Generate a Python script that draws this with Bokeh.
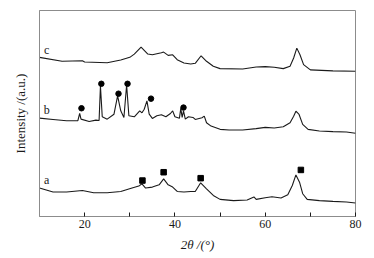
from bokeh.plotting import figure
from bokeh.models import Range1d, FixedTicker
from bokeh.core.properties import value
from bokeh.embed import file_html
from bokeh.resources import INLINE

# ---- data (2theta in degrees, intensity in arbitrary units) ----
x_a = [10, 13, 16, 19.5, 22, 25, 28, 30.5, 32, 32.7, 33.5, 35, 36.5, 37.5, 38.5, 39.5, 40.5, 42, 43.5, 44.5,
       45.7, 47, 48.5, 50, 53, 56, 57.5, 58, 60, 61.5, 63.5, 65, 66, 66.8, 67.6, 68.3, 69.3, 72, 75, 78, 80]
y_a = [28.7, 24.7, 24.7, 26.3, 24, 24, 25.3, 28.7, 30.7, 33, 28.7, 29.7, 32, 38, 32, 29.7, 25.3, 24.7, 25.3, 25.3,
       34, 28, 21.3, 17.3, 16, 16.7, 19.7, 17.3, 19, 20, 18.7, 22, 31.3, 42, 34.7, 23, 17.3, 16, 15.3, 14.7, 13.7]

x_b = [10, 13, 16, 18.5, 18.9, 19.2, 21, 22.5, 23.2, 23.5, 23.9, 25, 26.5, 27.3, 28, 28.7, 29.3, 29.8, 31, 32.2,
       32.7, 33.2, 33.8, 34.3, 35, 36, 37, 38, 39, 39.5, 40, 41, 41.3, 41.6, 41.9, 42.3, 43, 44, 44.5, 46,
       46.5, 47, 48, 50, 52, 55, 58, 60, 62, 64, 65.5, 66.3, 66.8, 67.5, 68.3, 69.5, 72, 75, 78, 80]
y_b = [99.3, 98, 96.7, 96.7, 104, 98.3, 96, 97.3, 97, 131.7, 100.7, 98.3, 103.3, 121.7, 106.7, 100, 132.7, 101.7, 100.7, 106.7,
       104.7, 108.3, 116.7, 103.3, 99, 101.7, 102.7, 100.7, 104, 106.7, 100.7, 99.3, 109.3, 100, 106.7, 98.3, 100.7, 100, 98, 99.7,
       101.3, 94.7, 91.3, 88, 87.3, 87.3, 88.7, 90, 89.3, 90.7, 94.7, 101.3, 106.3, 103, 93, 88, 86.3, 85.7, 85.3, 84]

x_c = [10, 15, 19.5, 20, 25, 28, 30, 31, 32.5, 34, 35, 37, 37.5, 38.5, 39.5, 40.5, 42, 43.5, 44.5, 45.8,
       47, 48.5, 50, 55, 58, 60, 62, 64, 65.5, 66.3, 67, 67.7, 68.5, 70, 75, 80]
y_c = [160.7, 156.7, 157.3, 156, 155.3, 158, 160.7, 164, 171, 164, 163.3, 165.3, 166, 162.7, 163.3, 158.3, 155, 154, 154.7, 162.3,
       156.7, 151.7, 149.3, 149, 151, 151.3, 150.7, 149.3, 151.7, 160, 170, 163.3, 153.3, 148, 147, 146.7]

sq_x = [32.8, 37.5, 45.7, 67.9]
sq_y = [36.3, 44.7, 38.7, 47]
ci_x = [19.3, 23.7, 27.5, 29.5, 34.7, 41.9]
ci_y = [109.3, 134, 124, 134, 119, 110]

curve_names = ["a", "b", "c"]
name_x = [11.6, 11.6, 11.6]
name_y = [37.3, 107.7, 168]

x_ticks = [20, 40, 60, 80]
x_minor = [30, 50, 70]

FONT = "Liberation Serif"
GRAY = "#8c8c8c"
INK = "#1a1a1a"

p = figure(width=366, height=254, output_backend="svg", toolbar_location=None,
           x_range=Range1d(10, 80), y_range=Range1d(0, 208),
           min_border_left=39, min_border_right=11, min_border_top=10, min_border_bottom=36)
p.grid.visible = False
p.background_fill_color = "white"
p.border_fill_color = "white"
p.outline_line_color = GRAY
p.outline_line_width = 1

for xs, ys in [(x_a, y_a), (x_b, y_b), (x_c, y_c)]:
    p.line(xs, ys, line_color=INK, line_width=1.1)

p.scatter(sq_x, sq_y, marker="square", size=5.5, fill_color="black", line_color="black")
p.scatter(ci_x, ci_y, marker="circle", size=5.5, fill_color="black", line_color="black")

p.text(x=name_x, y=name_y, text=curve_names, text_font=value(FONT),
       text_font_size="12px", text_align="center", text_baseline="middle", text_color=INK)

xa = p.xaxis[0]
xa.ticker = FixedTicker(ticks=x_ticks, minor_ticks=x_minor)
xa.axis_line_color = GRAY
xa.major_tick_in = 4
xa.major_tick_out = 0
xa.minor_tick_in = 4
xa.minor_tick_out = 0
xa.major_tick_line_color = INK
xa.minor_tick_line_color = INK
xa.major_label_text_font = FONT
xa.major_label_text_font_size = "12px"
xa.major_label_text_color = INK
xa.major_label_standoff = 3
xa.axis_label = "2θ /(°)"
xa.axis_label_text_font = FONT
xa.axis_label_text_font_size = "13px"
xa.axis_label_text_font_style = "italic"
xa.axis_label_text_color = INK
xa.axis_label_standoff = 6

ya = p.yaxis[0]
ya.ticker = FixedTicker(ticks=[])
ya.axis_line_color = GRAY
ya.major_tick_out = 0
ya.minor_tick_out = 0
ya.major_label_text_font_size = "0px"
ya.axis_label = "Intensity /(a.u.)"
ya.axis_label_text_font = FONT
ya.axis_label_text_font_size = "13px"
ya.axis_label_text_font_style = "normal"
ya.axis_label_text_color = INK
ya.axis_label_standoff = 12

open("out.html", "w").write(file_html(p, INLINE))
